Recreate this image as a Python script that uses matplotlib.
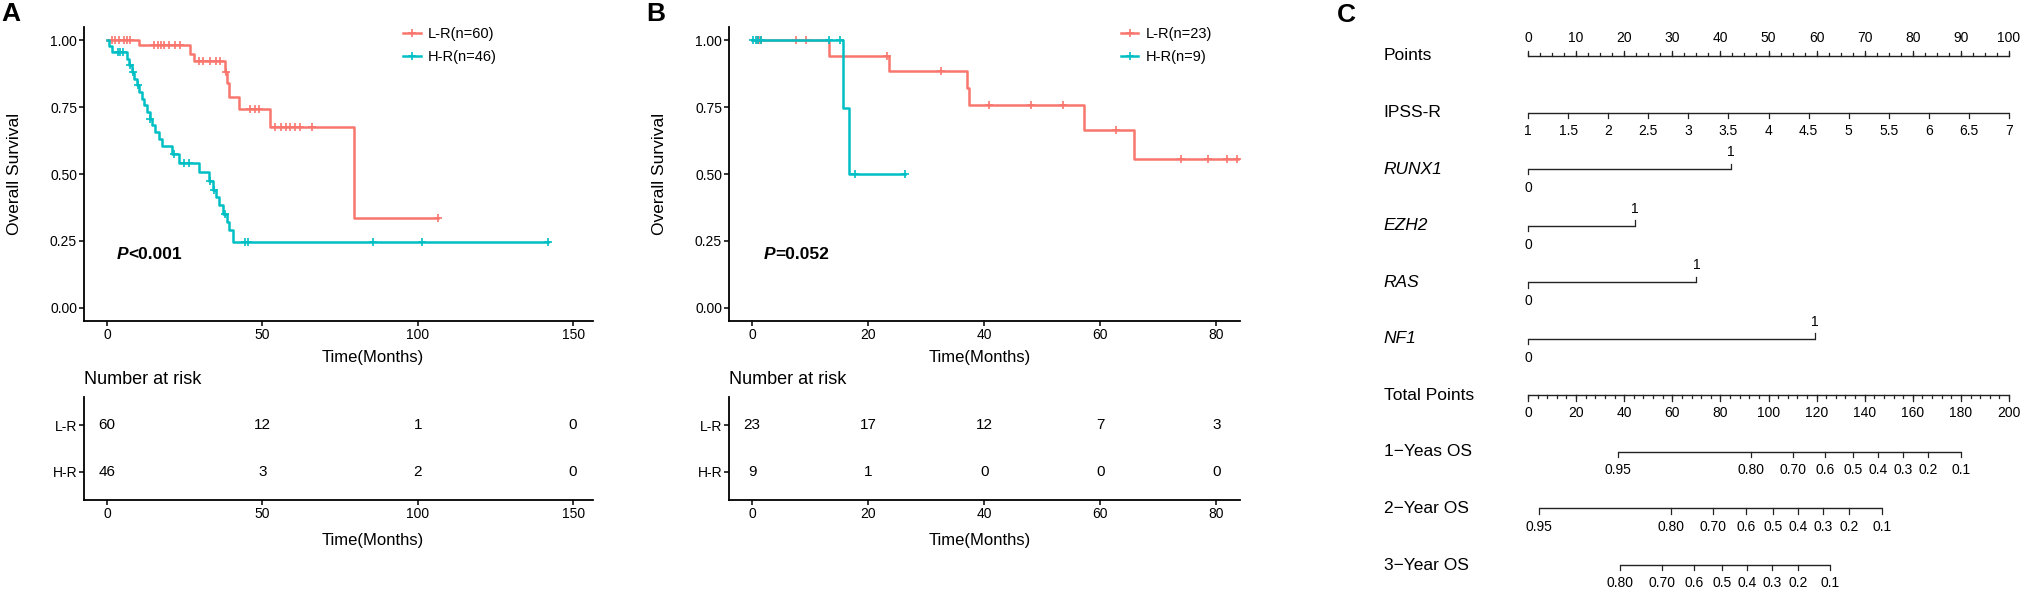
import numpy as np
import matplotlib.pyplot as plt
from matplotlib.lines import Line2D

plt.rcParams['font.family'] = ['Liberation Sans', 'DejaVu Sans']

RED = '#F8766D'
CYAN = '#00BFC4'
W, H = 2022, 590

# ---- panel A: Kaplan-Meier steps (time in months, survival after the step)
a_lr_time = [0, 10.3, 26.7, 28.0, 38.1, 38.6, 39.2, 42.6, 52.5, 79.5, 106.5]
a_lr_surv = [1.0, 0.983, 0.950, 0.921, 0.880, 0.840, 0.789, 0.742, 0.675, 0.337, 0.337]
a_lr_cens = [1.5, 2.5, 4.0, 5.5, 6.5, 7.5, 15.0, 16.5, 17.5, 18.5, 20.0, 22.0, 23.5,
             29.5, 31.0, 33.0, 35.0, 36.5, 38.3, 46.0, 47.5, 49.0,
             54.0, 56.0, 57.5, 59.0, 60.5, 62.0, 66.0, 106.5]

a_hr_time = [0, 0.7, 1.7, 6.3, 7.1, 7.9, 8.8, 9.6, 10.4, 11.2, 12.0, 12.9, 13.7, 14.5,
             15.4, 16.6, 17.8, 21.0, 23.2, 29.7, 32.9, 34.0, 35.0, 36.1, 37.2, 38.5,
             39.3, 40.6, 142.0]
a_hr_surv = [1.0, 0.978, 0.957, 0.932, 0.907, 0.882, 0.857, 0.832, 0.807, 0.782, 0.757,
             0.732, 0.707, 0.682, 0.657, 0.632, 0.604, 0.573, 0.542, 0.508, 0.475, 0.442,
             0.413, 0.383, 0.350, 0.320, 0.290, 0.246, 0.246]
a_hr_cens = [3.5, 4.2, 5.0, 7.4, 8.3, 10.0, 14.0, 21.5, 24.8, 26.4, 33.2, 34.5, 38.0,
             44.4, 45.5, 85.6, 101.5, 142.0]

# ---- panel B
b_lr_time = [0, 13.3, 23.6, 37.0, 37.4, 57.2, 65.9, 83.7]
b_lr_surv = [1.0, 0.942, 0.886, 0.820, 0.757, 0.665, 0.556, 0.556]
b_lr_cens = [0.8, 1.2, 1.5, 7.6, 9.3, 23.2, 32.6, 40.9, 48.0, 53.6, 62.7, 74.0, 78.6, 81.9, 83.6]

b_hr_time = [0, 15.7, 16.7, 26.4]
b_hr_surv = [1.0, 0.748, 0.50, 0.50]
b_hr_cens = [0.2, 0.6, 1.0, 1.6, 13.2, 15.2, 17.8, 26.4]

# ---- numbers at risk
a_risk_times = [0, 50, 100, 150]
a_risk_lr = [60, 12, 1, 0]
a_risk_hr = [46, 3, 2, 0]
b_risk_times = [0, 20, 40, 60, 80]
b_risk_lr = [23, 17, 12, 7, 3]
b_risk_hr = [9, 1, 0, 0, 0]

# ---- nomogram
points_ticks = list(range(0, 101, 10))
ipss_values = [1, 1.5, 2, 2.5, 3, 3.5, 4, 4.5, 5, 5.5, 6, 6.5, 7]
gene_names = ['RUNX1', 'EZH2', 'RAS', 'NF1']
gene_points = [42.2, 22.2, 35.0, 59.7]
total_ticks = list(range(0, 201, 20))
os1_labels = ['0.95', '0.80', '0.70', '0.6', '0.5', '0.4', '0.3', '0.2', '0.1']
os1_total = [37.4, 92.7, 110.2, 123.5, 135.2, 145.6, 156.0, 166.4, 180.1]
os2_labels = ['0.95', '0.80', '0.70', '0.6', '0.5', '0.4', '0.3', '0.2', '0.1']
os2_total = [4.6, 59.5, 76.9, 90.6, 101.9, 112.3, 122.7, 133.5, 147.2]
os3_labels = ['0.80', '0.70', '0.6', '0.5', '0.4', '0.3', '0.2', '0.1']
os3_total = [38.3, 55.8, 69.0, 80.6, 91.1, 101.5, 112.3, 125.6]


def surv_at(times, surv, t):
    idx = np.searchsorted(times, t, side='right') - 1
    return np.array(surv)[idx]


def style_axes(ax):
    for s in ['top', 'right']:
        ax.spines[s].set_visible(False)
    for s in ['left', 'bottom']:
        ax.spines[s].set_linewidth(1.3)
    ax.tick_params(direction='out', length=3.5, width=1.1, pad=1.5, labelsize=10)


def km_panel(left, right, xlim, xticks, curves, legend_x, pval, pval_x, risk, letter):
    ax = fig.add_axes([left / W, 1 - 321 / H, (right - left) / W, 294 / H])
    style_axes(ax)
    for times, surv, cens, col in curves:
        ax.step(times, surv, where='post', color=col, lw=1.8)
        ax.plot(cens, surv_at(times, surv, cens), ls='none', marker='+', ms=6,
                mew=1.2, color=col)
    ax.set_xlim(*xlim)
    ax.set_ylim(-0.05, 1.05)
    ax.set_xticks(xticks)
    ax.set_yticks([0, 0.25, 0.5, 0.75, 1.0])
    ax.set_yticklabels(['0.00', '0.25', '0.50', '0.75', '1.00'])
    ax.set_ylabel('Overall Survival', fontsize=12.5)
    ax.yaxis.set_label_coords(-0.122, 0.5)
    handles = [Line2D([], [], color=c[3], lw=1.8, marker='+', ms=6, mew=1.2) for c in curves]
    ax.legend(handles, legend_x[1], loc='upper left', bbox_to_anchor=(legend_x[0], 1.0),
              frameon=False, fontsize=10.5, handlelength=1.2, handletextpad=0.5,
              labelspacing=0.6, borderpad=0, borderaxespad=0)
    t1 = ax.text(pval_x, 0.2, 'P', fontsize=12.5, fontweight='bold', style='italic',
                 ha='left', va='center')
    ax.annotate(pval, xy=(1, 0), xycoords=t1, fontsize=12.5, fontweight='bold',
                ha='left', va='bottom')

    rk = fig.add_axes([left / W, 1 - 500 / H, (right - left) / W, 103 / H])
    style_axes(rk)
    rt, rlr, rhr, xlab_x = risk
    for t, n1, n2 in zip(rt, rlr, rhr):
        rk.text(t, 2, str(n1), ha='center', va='center', fontsize=11)
        rk.text(t, 1, str(n2), ha='center', va='center', fontsize=11)
    rk.set_xlim(*xlim)
    rk.set_ylim(0.4, 2.6)
    rk.set_xticks(xticks)
    rk.set_yticks([1, 2])
    rk.set_yticklabels(['H-R', 'L-R'])
    rk.text(0, 1 + 17 / 103, 'Number at risk', transform=rk.transAxes, fontsize=13,
            ha='left', va='center')
    for a, yb in [(ax, -29 / 294), (rk, -33 / 103)]:
        a.set_xlabel('Time(Months)', fontsize=12)
        a.xaxis.set_label_coords(xlab_x, yb)
    fig.text((left - 83) / W, 1 - 14 / H, letter, fontsize=19, fontweight='bold',
             ha='left', va='center')


fig = plt.figure(figsize=(W / 100, H / 100), dpi=100)

km_panel(84, 593, (-7.4, 156.4), [0, 50, 100, 150],
         [(a_lr_time, a_lr_surv, a_lr_cens, RED), (a_hr_time, a_hr_surv, a_hr_cens, CYAN)],
         (0.627, ['L-R(n=60)', 'H-R(n=46)']), '<0.001', 3.0,
         (a_risk_times, a_risk_lr, a_risk_hr, 0.567), 'A')
km_panel(729, 1240, (-4.0, 84.1), [0, 20, 40, 60, 80],
         [(b_lr_time, b_lr_surv, b_lr_cens, RED), (b_hr_time, b_hr_surv, b_hr_cens, CYAN)],
         (0.767, ['L-R(n=23)', 'H-R(n=9)']), '=0.052', 1.9,
         (b_risk_times, b_risk_lr, b_risk_hr, 0.49), 'B')

# ---- panel C: nomogram, x in points (0-100), y in rows
nc = fig.add_axes([1528 / W, 1 - 565 / H, 481 / W, 509 / H])
nc.set_xlim(0, 100)
nc.set_ylim(9, 0)
nc.axis('off')
LC = '#222222'
TL = 0.095   # major tick length in rows
TM = 0.05    # minor tick length
OFF = 0.32   # label offset
FS = 10


def hline(y, x0, x1):
    nc.plot([x0, x1], [y, y], color=LC, lw=1.0, solid_capstyle='butt', clip_on=False)


def ticks(y, xs, length, sign):
    for x in xs:
        nc.plot([x, x], [y, y + sign * length], color=LC, lw=0.9, clip_on=False)


def labels(y, xs, texts, sign):
    for x, s in zip(xs, texts):
        nc.text(x, y + sign * OFF, s, ha='center', va='center', fontsize=FS)


row_names = ['Points', 'IPSS-R'] + gene_names + ['Total Points', '1\u2212Yeas OS',
                                                 '2\u2212Year OS', '3\u2212Year OS']
for r, name in enumerate(row_names):
    nc.text(-30, r, name, ha='left', va='center', fontsize=12.5,
            style='italic' if name in gene_names else 'normal')

# Points
hline(0, 0, 100)
ticks(0, points_ticks, TL, -1)
ticks(0, np.arange(0, 100.1, 2.5), TM, -1)
labels(0, points_ticks, [str(p) for p in points_ticks], -1)

# IPSS-R
ipss_x = [(v - 1) / 6 * 100 for v in ipss_values]
hline(1, 0, 100)
ticks(1, ipss_x, TL, 1)
labels(1, ipss_x, ['%g' % v for v in ipss_values], 1)

# binary genes
for i, p in enumerate(gene_points):
    r = 2 + i
    hline(r, 0, p)
    ticks(r, [0], TL, 1)
    ticks(r, [p], TL, -1)
    nc.text(0, r + OFF + 0.02, '0', ha='center', va='center', fontsize=FS)
    nc.text(p, r - OFF + 0.02, '1', ha='center', va='center', fontsize=FS)

# Total points (0-200 over the same length)
hline(6, 0, 100)
ticks(6, [t / 2 for t in total_ticks], TL, 1)
ticks(6, np.arange(0, 200.1, 4) / 2, TM, 1)
labels(6, [t / 2 for t in total_ticks], [str(t) for t in total_ticks], 1)

# survival scales
for r, tot, labs in [(7, os1_total, os1_labels), (8, os2_total, os2_labels),
                     (9, os3_total, os3_labels)]:
    xs = [t / 2 for t in tot]
    hline(r, xs[0], xs[-1])
    ticks(r, xs, TL, 1)
    labels(r, xs, labs, 1)

fig.text(1337 / W, 1 - 15 / H, 'C', fontsize=19, fontweight='bold', ha='left', va='center')

fig.savefig('out.png', dpi=100)
